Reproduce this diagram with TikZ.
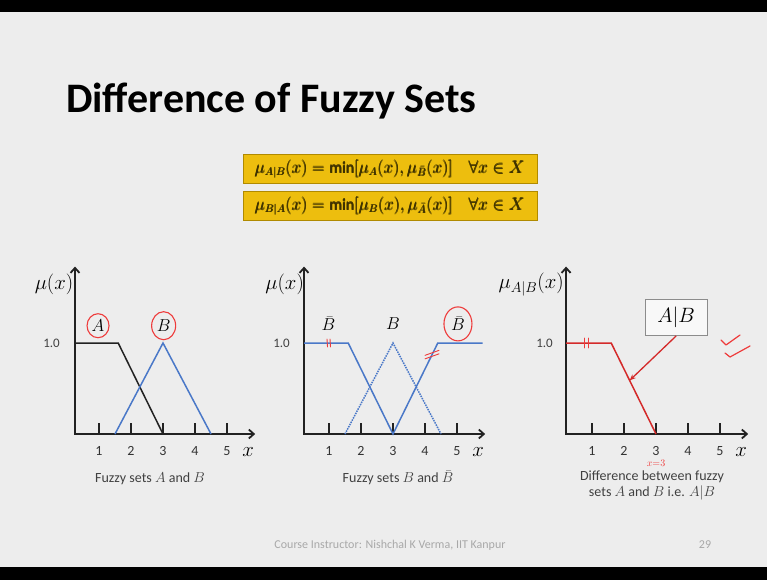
\documentclass[tikz,border=0pt]{standalone}
\usepackage{amsmath,amssymb}
\usepackage{fontspec}
\setmainfont{Carlito}
\usetikzlibrary{arrows.meta, positioning, calc}

\definecolor{slidebg}{HTML}{EDEDED}
\definecolor{goldbox}{HTML}{EDBE0E}
\definecolor{goldline}{HTML}{B08A00}
\definecolor{goldtext}{HTML}{3E3200}
\definecolor{setblue}{HTML}{4A78C8}
\definecolor{setred}{HTML}{D42A2A}
\definecolor{inkred}{HTML}{EE3B3B}
\definecolor{axisgray}{HTML}{222222}
\definecolor{footgray}{HTML}{A8A8A8}

\tikzstyle{axisline} = [line width=1.8pt, axisgray, {Straight Barb[length=5pt,width=9pt]}-{Straight Barb[length=5pt,width=9pt]}]
\tikzstyle{tickmark} = [line width=1.6pt, axisgray]

\begin{document}
\begin{tikzpicture}[x=1pt, y=-1pt,
    formbox/.style={fill=goldbox, draw=goldline, line width=0.8pt, minimum width=294pt, minimum height=29pt, text=goldtext, font=\fontsize{16}{18}\selectfont},
    ticklabel/.style={font=\fontsize{14}{16}\selectfont, text=black!80, inner sep=0pt},
    xlab/.style={font=\fontsize{20}{22}\selectfont, inner sep=0pt},
    axlab/.style={font=\fontsize{20}{22}\selectfont, inner sep=0pt, anchor=east},
    onelab/.style={font=\fontsize{13}{15}\selectfont, text=black!75, inner sep=0pt, anchor=east},
    setlab/.style={font=\fontsize{19}{21}\selectfont, inner sep=0pt},
    setline/.style={line width=1.5pt, line join=miter},
    captext/.style={font=\fontsize{14}{16}\selectfont, text=black!75, align=center},
    inkcircle/.style={inkred, line width=1.1pt},
    inkmark/.style={inkred, line width=1.2pt, line cap=round, line join=round},
]
\useasboundingbox (0,0) rectangle (767,580);

% slide and black frame
\fill[black] (0,0) rectangle (767,580);
\fill[slidebg] (0,12) rectangle (767,567);

% title
\node[anchor=base west, inner sep=0pt, font=\fontsize{42}{46}\selectfont\bfseries] (title) at (66,113) {Difference of Fuzzy Sets};

% Fuzzy sets A and B
\begin{scope}[shift={(67,434)}, x=32pt, y=91pt]
  \draw[axisline] (0.25,1.84) -- (0.25,0) -- (5.88,0);
  \foreach \t in {1,...,5} {
    \draw[tickmark] (\t,0) -- (\t,0.12);
    \node[ticklabel] (ta\t) at (\t,-0.19) {\t};
  }
  \node[xlab] (xa) at (5.66,-0.2) {$x$};
  \node[axlab] (mua) at (0.2,1.64) {$\mu(x)$};
  \node[onelab] (onea) at (-0.22,1) {1.0};
  \draw[setline, axisgray] (0.25,1) -- (1.6,1) -- (3,0);
  \draw[setline, setblue] (1.5,0) -- (3,1) -- (4.5,0);
  \node[setlab] (la) at (0.97,1.19) {$A$};
  \node[setlab] (lb) at (3.02,1.19) {$B$};
  \draw[inkcircle] (la) ellipse [x radius=11pt, y radius=12pt];
  \draw[inkcircle] (lb) ellipse [x radius=12pt, y radius=14pt];
\end{scope}
\node[captext] (capa) at (150,479) {Fuzzy sets $A$ and $B$};

% Fuzzy sets B and B-bar
\begin{scope}[shift={(297,434)}, x=32pt, y=91pt]
  \draw[axisline] (0.22,1.84) -- (0.22,0) -- (5.88,0);
  \foreach \t in {1,...,5} {
    \draw[tickmark] (\t,0) -- (\t,0.12);
    \node[ticklabel] (tb\t) at (\t,-0.19) {\t};
  }
  \node[xlab] (xb) at (5.66,-0.2) {$x$};
  \node[axlab] (mub) at (0.22,1.64) {$\mu(x)$};
  \node[onelab] (oneb) at (-0.22,1) {1.0};
  \draw[setline, setblue, densely dotted] (1.5,0) -- (3,1) -- (4.5,0);
  \draw[setline, setblue] (0.22,1) -- (1.6,1) -- (3,0) -- (4.4,1) -- (5.8,1);
  \node[setlab] (lbb1) at (0.98,1.21) {$\bar{B}$};
  \node[setlab] (lbb) at (3,1.21) {$B$};
  \node[setlab] (lbb2) at (5.03,1.21) {$\bar{B}$};
  \draw[inkcircle] (lbb2) ellipse [x radius=14pt, y radius=17pt];
  % pen strokes on the complement
  \draw[inkmark, line width=0.9pt] ($(1,1)+(-2pt,4pt)$) -- ++(0.5pt,-8pt) ($(1,1)+(1pt,4pt)$) -- ++(0.5pt,-8pt);
  \draw[inkmark, line width=0.9pt] ($(4.22,0.87)+(-7pt,-4pt)$) -- ++(14pt,5pt) ($(4.22,0.87)+(-7pt,-0.5pt)$) -- ++(14pt,5pt);
\end{scope}
\node[captext] (capb) at (398,478) {Fuzzy sets $B$ and $\bar{B}$};

% Difference A|B
\begin{scope}[shift={(560,434)}, x=32pt, y=91pt]
  \draw[axisline] (0.19,1.84) -- (0.19,0) -- (5.88,0);
  \foreach \t in {1,...,5} {
    \draw[tickmark] (\t,0) -- (\t,0.12);
    \node[ticklabel] (tc\t) at (\t,-0.19) {\t};
  }
  \node[xlab] (xc) at (5.66,-0.2) {$x$};
  \node[axlab] (muc) at (0.12,1.64) {$\mu_{A\vert B}(x)$};
  \node[onelab] (onec) at (-0.22,1) {1.0};
  \draw[setline, setred] (0.19,1) -- (1.6,1) -- (3,0);
  \draw[inkmark, line width=0.9pt] ($(0.84,1)+(-2pt,5pt)$) -- ++(0pt,-10pt) ($(0.84,1)+(2pt,5pt)$) -- ++(0pt,-10pt);
  \node[draw=black!45, fill=white!60!slidebg, line width=0.8pt, minimum width=62pt, minimum height=36pt, font=\fontsize{20}{22}\selectfont] (diffbox) at (3.63,1.28) {$A\vert B$};
  \coordinate (onslope) at (2.18,0.59);
  \draw[setred, line width=1.3pt, -{Stealth[length=6pt,width=5pt]}] (diffbox.south) -- (onslope);
  \node[inner sep=0pt, text=inkred, font=\fontsize{10}{11}\selectfont\bfseries] (xthree) at (3,-0.32) {$x{=}3$};
\end{scope}
\node[captext] (capc) at (652,485) {Difference between fuzzy\\sets $A$ and $B$ i.e. $A\vert B$};

% ticks written beside the result
\draw[inkmark] (721,340) -- (726,345) -- (740,335);
\draw[inkmark] (725,353) -- (730,357) -- (750,346);

% footer
\node[font=\fontsize{12}{14}\selectfont, text=footgray] (footer) at (390,545) {Course Instructor: Nishchal K Verma, IIT Kanpur};
\node[font=\fontsize{12}{14}\selectfont, text=footgray] (pageno) at (705,545) {29};

% formula boxes
\node[formbox] (diffab) at (390,169) {$\pmb{\mu_{A\vert B}(x) = \min[\mu_A(x), \mu_{\bar{B}}(x)]\quad\forall x \in X}$};
\node[formbox] (diffba) at (390,206) {$\pmb{\mu_{B\vert A}(x) = \min[\mu_B(x), \mu_{\bar{A}}(x)]\quad\forall x \in X}$};

\end{tikzpicture}
\end{document}
